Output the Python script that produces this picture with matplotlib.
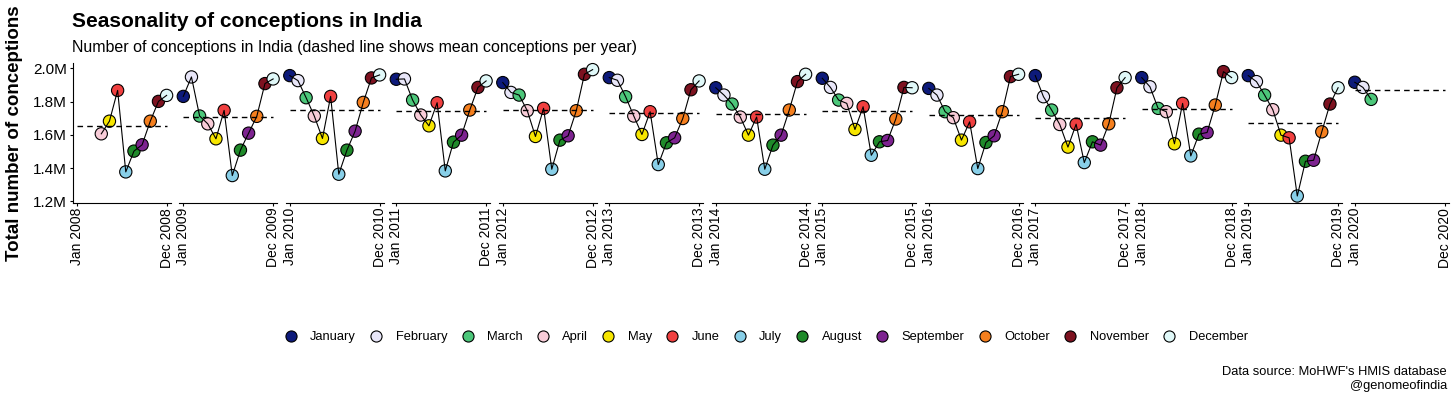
import numpy as np
import matplotlib.pyplot as plt
from matplotlib.lines import Line2D

plt.rcParams['font.family'] = ['Liberation Sans', 'DejaVu Sans']

months = ['January', 'February', 'March', 'April', 'May', 'June', 'July',
          'August', 'September', 'October', 'November', 'December']
month_colors = ['#0d1a7a', '#e8e6f8', '#4cc77a', '#f8ccd8', '#f7e600', '#f04040',
                '#88cfe8', '#1f8a2a', '#7d2390', '#f57f1e', '#7d1220', '#e0f8f8']

years = list(range(2008, 2021))
nan = np.nan

# conceptions in millions, Jan..Dec
c2008 = [nan, nan, nan, 1.606, 1.682, 1.867, 1.377, 1.502, 1.540, 1.682, 1.801, 1.837]
c2009 = [1.831, 1.948, 1.713, 1.666, 1.576, 1.747, 1.355, 1.508, 1.610, 1.711, 1.908, 1.936]
c2010 = [1.956, 1.926, 1.823, 1.713, 1.578, 1.831, 1.363, 1.508, 1.622, 1.795, 1.942, 1.960]
c2011 = [1.934, 1.936, 1.809, 1.719, 1.654, 1.793, 1.383, 1.556, 1.598, 1.749, 1.885, 1.924]
c2012 = [1.914, 1.855, 1.839, 1.745, 1.590, 1.759, 1.393, 1.568, 1.594, 1.745, 1.964, 1.992]
c2013 = [1.944, 1.928, 1.829, 1.713, 1.602, 1.739, 1.421, 1.552, 1.582, 1.698, 1.871, 1.924]
c2014 = [1.883, 1.839, 1.785, 1.707, 1.598, 1.707, 1.393, 1.538, 1.598, 1.749, 1.920, 1.964]
c2015 = [1.940, 1.885, 1.809, 1.789, 1.632, 1.769, 1.477, 1.558, 1.566, 1.695, 1.885, 1.883]
c2016 = [1.879, 1.839, 1.739, 1.703, 1.568, 1.678, 1.397, 1.554, 1.594, 1.739, 1.950, 1.964]
c2017 = [1.956, 1.829, 1.749, 1.662, 1.526, 1.664, 1.433, 1.558, 1.538, 1.666, 1.883, 1.944]
c2018 = [1.944, 1.889, 1.759, 1.739, 1.546, 1.789, 1.473, 1.604, 1.614, 1.779, 1.980, 1.944]
c2019 = [1.956, 1.920, 1.839, 1.751, 1.598, 1.582, 1.232, 1.441, 1.447, 1.618, 1.785, 1.883]
c2020 = [1.916, 1.885, 1.813, nan, nan, nan, nan, nan, nan, nan, nan, nan]

series = [c2008, c2009, c2010, c2011, c2012, c2013, c2014, c2015, c2016,
          c2017, c2018, c2019, c2020]

W, H = 1456, 398
fig = plt.figure(figsize=(W / 100, H / 100), dpi=100)

bottom = 1 - 203 / H
top = 1 - 63.3 / H
pw = 98
x = np.arange(1, 13)

for i, (year, vals) in enumerate(zip(years, series)):
    left = 72.7 + i * 106.5
    ax = fig.add_axes([left / W, bottom, pw / W, top - bottom])
    v = np.array(vals, dtype=float)
    ok = ~np.isnan(v)
    ax.scatter(x[ok], v[ok], s=78, c=[month_colors[k] for k in np.where(ok)[0]],
               edgecolors='black', linewidths=0.8, zorder=2, clip_on=False)
    ax.plot(x[ok], v[ok], color='black', lw=0.8, zorder=3, clip_on=False)
    m = np.nanmean(v)
    ax.plot([1, 12], [m, m], color='black', lw=1.0, ls=(0, (4, 3)), zorder=4)

    ax.set_xlim(0.5, 12.5)
    ax.set_ylim(1.19, 2.03)
    for s in ['top', 'right']:
        ax.spines[s].set_visible(False)
    ax.spines['bottom'].set_linewidth(0.8)
    ax.set_xticks([1, 12])
    ax.set_xticklabels([f'Jan {year}', f'Dec {year}'], rotation=90,
                       ha='center', va='top', fontsize=10)
    ax.tick_params(axis='x', length=2.5, width=0.8, pad=1, colors='black')
    if i == 0:
        ax.spines['left'].set_linewidth(0.8)
        ax.set_yticks([1.2, 1.4, 1.6, 1.8, 2.0])
        ax.set_yticklabels(['1.2M', '1.4M', '1.6M', '1.8M', '2.0M'], fontsize=11)
        ax.tick_params(axis='y', length=2.5, width=0.8, pad=1.5, colors='black')
    else:
        ax.spines['left'].set_visible(False)
        ax.set_yticks([])

fig.text(72 / W, 1 - 27.3 / H, 'Seasonality of conceptions in India',
         fontsize=15, fontweight='bold', va='baseline', ha='left')
fig.text(72 / W, 1 - 52 / H,
         'Number of conceptions in India (dashed line shows mean conceptions per year)',
         fontsize=11.5, va='baseline', ha='left')
fig.text(15 / W, (bottom + top) / 2, 'Total number of conceptions', rotation=90,
         fontsize=13.5, fontweight='bold', ha='center', va='center')

handles = [Line2D([], [], ls='none', marker='o', markersize=8, markerfacecolor=c,
                  markeredgecolor='black', markeredgewidth=0.8) for c in month_colors]
fig.legend(handles, months, ncol=12, loc='center', bbox_to_anchor=(766 / W, 1 - 337 / H),
           frameon=False, fontsize=9.3, handlelength=1, handletextpad=1.0,
           columnspacing=1.07)

fig.text(1447 / W, 1 - 375 / H, "Data source: MoHWF's HMIS database",
         fontsize=9.3, ha='right', va='baseline')
fig.text(1447 / W, 1 - 389 / H, '@genomeofindia',
         fontsize=9.3, ha='right', va='baseline')

fig.savefig('out.png', dpi=100)
